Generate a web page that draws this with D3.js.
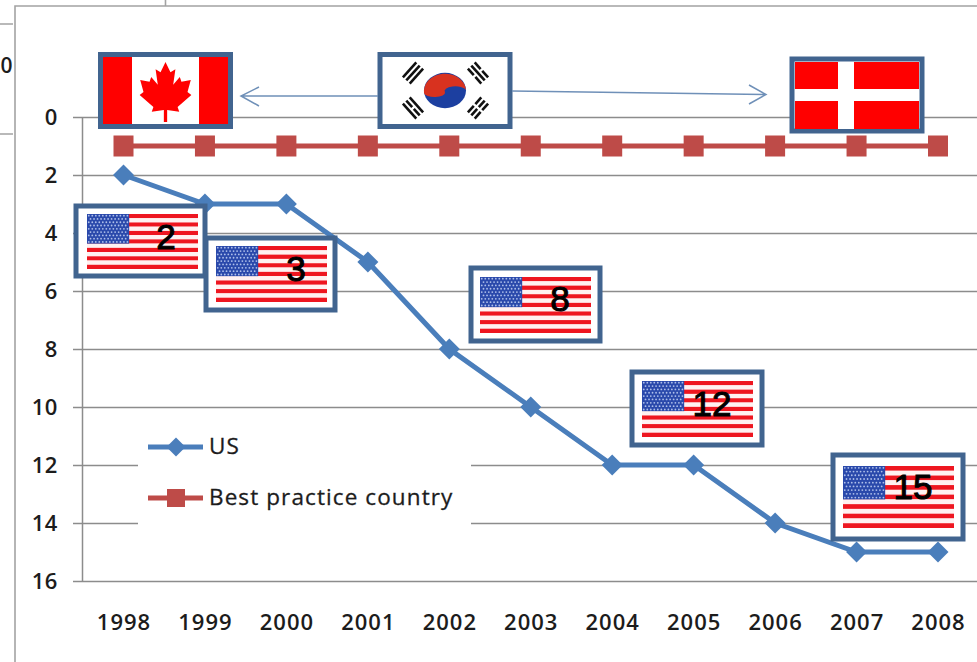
<!DOCTYPE html>
<html>
<head>
<meta charset="utf-8">
<script src="https://cdnjs.cloudflare.com/ajax/libs/d3/7.8.5/d3.min.js"></script>
<style>
  html, body { margin: 0; padding: 0; background: #fff; overflow: hidden; }
  svg { display: block; }
  text { font-family: "Open Sans", sans-serif; fill: #1c1c1c; }
</style>
</head>
<body>
<svg id="chart" width="977" height="662"></svg>
<script>
// Rank of each country by year (1 = best)
const years = [1998, 1999, 2000, 2001, 2002, 2003, 2004, 2005, 2006, 2007, 2008];
const usRank = [2, 3, 3, 5, 8, 10, 12, 12, 14, 15, 15];
const bestPracticeRank = [1, 1, 1, 1, 1, 1, 1, 1, 1, 1, 1];
const rankTicks = [0, 2, 4, 6, 8, 10, 12, 14, 16];
const seriesNames = ["US", "Best practice country"];
const calloutYears = [1998, 2000, 2002, 2005, 2007];

// Callout frames, one per entry of calloutYears
const calloutFrames = [
  { x: 76, y: 206, w: 129, h: 70, fx: 87, fy: 214, fw: 111, fh: 55, tx: 166, ty: 236 },
  { x: 206, y: 238, w: 129, h: 72, fx: 216, fy: 246, fw: 111, fh: 56, tx: 296, ty: 268 },
  { x: 471, y: 268, w: 129, h: 73, fx: 480, fy: 277, fw: 111, fh: 56, tx: 560, ty: 298 },
  { x: 632, y: 372, w: 130, h: 73, fx: 642, fy: 381, fw: 111, fh: 56, tx: 712, ty: 403 },
  { x: 833, y: 455, w: 130, h: 84, fx: 843, fy: 466, fw: 111, fh: 62, tx: 913, ty: 486 }
];

const BORDER = "#41648f", RED = "#ff0000", FLAG_RED = "#ee1620";
const svg = d3.select("#chart");

const x = d3.scalePoint().domain(years).range([123.5, 938]);
const y = d3.scaleLinear().domain([0, 16]).range([117, 581]);

// Outer frame and the cropped neighbour at the top-left
const frame = svg.append("g").attr("stroke", "#a3a3a3").attr("stroke-width", 1.6).attr("fill", "none");
frame.append("path").attr("d", "M977,6H15V662");
frame.append("path").attr("d", "M0,24H13M0,134H13M165.5,0V6");
svg.append("text").attr("x", 6.5).attr("y", 66).attr("dy", "0.35em")
  .attr("text-anchor", "middle").attr("font-size", 21).attr("font-weight", 600).text("0");

// Rank axis with its ticks carried across as gridlines
const yAxis = d3.axisLeft(y).tickValues(rankTicks).tickSize(0).tickPadding(24);
const yg = svg.append("g").attr("transform", "translate(82,0)").call(yAxis);
yg.select(".domain").attr("stroke", "#8c8c8c").attr("stroke-width", 1.5);
yg.selectAll(".tick line")
  .attr("x1", -9).attr("x2", 977 - 82)
  .attr("stroke", "#8c8c8c").attr("stroke-width", 1.5);
yg.selectAll(".tick text")
  .attr("font-size", 22).attr("font-family", '"Open Sans", sans-serif')
  .attr("fill", "#1c1c1c").attr("font-weight", 600).attr("letter-spacing", 0.6);

// Year labels sit below the baseline without tick marks
const xAxis = d3.axisBottom(x).tickSize(0).tickPadding(33).tickFormat(d3.format("d"));
const xg = svg.append("g").attr("transform", `translate(0,${y(16)})`).call(xAxis);
xg.select(".domain").remove();
xg.selectAll(".tick text")
  .attr("font-size", 22).attr("font-family", '"Open Sans", sans-serif')
  .attr("fill", "#1c1c1c").attr("font-weight", 600).attr("letter-spacing", 1);

// Series lines and markers
const line = d3.line().x((d, i) => x(years[i])).y(d => y(d));
const US_BLUE = "#4a7ebb", BEST_RED = "#be4b48";
const diamond = s => `M0,${-s}L${s},0L0,${s}L${-s},0Z`;

svg.append("path").datum(bestPracticeRank).attr("d", line)
  .attr("fill", "none").attr("stroke", BEST_RED).attr("stroke-width", 5);
svg.selectAll("rect.best").data(bestPracticeRank).join("rect").attr("class", "best")
  .attr("x", (d, i) => x(years[i]) - 10).attr("y", d => y(d) - 10.5)
  .attr("width", 20).attr("height", 21).attr("fill", BEST_RED);

svg.append("path").datum(usRank).attr("d", line)
  .attr("fill", "none").attr("stroke", US_BLUE).attr("stroke-width", 5);
svg.selectAll("path.us").data(usRank).join("path").attr("class", "us")
  .attr("transform", (d, i) => `translate(${x(years[i])},${y(d)})`)
  .attr("d", diamond(10.5)).attr("fill", US_BLUE);

// Legend panel hides the gridlines behind it
const legend = svg.append("g");
legend.append("rect").attr("x", 138).attr("y", 424).attr("width", 333).attr("height", 102).attr("fill", "#fff");
[447, 498].forEach((ly, i) => {
  const col = i === 0 ? US_BLUE : BEST_RED;
  legend.append("line").attr("x1", 148).attr("x2", 203).attr("y1", ly).attr("y2", ly)
    .attr("stroke", col).attr("stroke-width", 5);
  if (i === 0) {
    legend.append("path").attr("transform", `translate(176,${ly})`).attr("d", diamond(9.5)).attr("fill", col);
  } else {
    legend.append("rect").attr("x", 167).attr("y", ly - 9).attr("width", 18).attr("height", 18).attr("fill", col);
  }
  legend.append("text").attr("x", 209).attr("y", ly - 1).attr("dy", "0.35em")
    .attr("font-size", 22.5).attr("letter-spacing", 1.1).attr("stroke", "#1c1c1c").attr("stroke-width", 0.3)
    .text(seriesNames[i]);
});

function box(g, bx, by, bw, bh) {
  g.append("rect").attr("x", bx).attr("y", by).attr("width", bw).attr("height", bh)
    .attr("fill", "#fff").attr("stroke", BORDER).attr("stroke-width", 5);
}

// US flag: thirteen stripes, canton with a grid of stars
function usFlag(g, f) {
  const sh = f.fh / 13;
  d3.range(13).forEach(i => {
    g.append("rect").attr("x", f.fx).attr("y", f.fy + i * sh)
      .attr("width", f.fw).attr("height", sh)
      .attr("fill", i % 2 ? "#fff1f1" : FLAG_RED);
  });
  const cw = f.fw * 0.38, ch = sh * 7;
  g.append("rect").attr("x", f.fx).attr("y", f.fy).attr("width", cw).attr("height", ch).attr("fill", "#2a49ab");
  d3.range(9).forEach(r => {
    const n = r % 2 ? 11 : 12;
    d3.range(n).forEach(c => {
      g.append("circle")
        .attr("cx", f.fx + (c + (r % 2 ? 1 : 0.5)) * cw / 12)
        .attr("cy", f.fy + (r + 0.5) * ch / 9)
        .attr("r", 0.9).attr("fill", "#aebfea");
    });
  });
}

calloutFrames.forEach((f, i) => {
  const g = svg.append("g");
  box(g, f.x, f.y, f.w, f.h);
  usFlag(g, f);
  g.append("text").attr("x", f.tx).attr("y", f.ty).attr("dy", "0.36em")
    .attr("text-anchor", "middle").attr("font-size", 35)
    .style("font-family", '"Liberation Sans", sans-serif')
    .style("fill", "#000").attr("stroke", "#000").attr("stroke-width", 1)
    .text(usRank[years.indexOf(calloutYears[i])]);
});

// Canada
const ca = svg.append("g");
box(ca, 100.5, 54.5, 130, 72);
ca.append("rect").attr("x", 103).attr("y", 57).attr("width", 125).attr("height", 67).attr("fill", RED);
ca.append("rect").attr("x", 132).attr("y", 57).attr("width", 67).attr("height", 67).attr("fill", "#fff");
const halfLeaf = [[0,-50],[9,-33],[18,-38],[14,-12],[26,-25],[29,-17],[46,-20],[40,0],[47,5],[22,25],[25,33],[3,30],[3,50]];
const leaf = halfLeaf.concat(halfLeaf.slice(1).reverse().map(p => [-p[0], p[1]]));
ca.append("path")
  .attr("transform", "translate(165.5,92) scale(0.55,0.6)")
  .attr("d", "M" + leaf.join("L") + "Z").attr("fill", RED);

// Korea
const kr = svg.append("g");
box(kr, 380, 54.5, 130, 72);
const tg = kr.append("g").attr("transform", "translate(445,90.5) scale(1,0.84)");
const R = 21;
tg.append("circle").attr("r", R).attr("fill", "#1c3fa0");
tg.append("path")
  .attr("d", `M${-R},3A${R},${R} 0 0 1 ${R},-1A${R/2},${R/4} 0 0 0 0,2A${R/2},${R/4} 0 0 1 ${-R},3Z`)
  .attr("fill", "#d8321f");
const trigrams = [
  { cx: 413, cy: 73, rot: -48, bars: [1, 1, 1] },
  { cx: 478, cy: 73, rot: 48, bars: [0, 1, 0] },
  { cx: 413, cy: 108, rot: 48, bars: [1, 0, 1] },
  { cx: 478, cy: 108, rot: -48, bars: [0, 0, 0] }
];
trigrams.forEach(t => {
  const g = kr.append("g").attr("transform", `translate(${t.cx},${t.cy}) rotate(${t.rot})`)
    .attr("stroke", "#111").attr("stroke-width", 2.6);
  t.bars.forEach((solid, i) => {
    const by = (i - 1) * 4.6;
    if (solid) g.append("line").attr("x1", -10).attr("x2", 10).attr("y1", by).attr("y2", by);
    else {
      g.append("line").attr("x1", -10).attr("x2", -1.2).attr("y1", by).attr("y2", by);
      g.append("line").attr("x1", 1.2).attr("x2", 10).attr("y1", by).attr("y2", by);
    }
  });
});

// Denmark
const dk = svg.append("g");
box(dk, 792, 59, 130, 72);
dk.append("rect").attr("x", 795).attr("y", 62).attr("width", 124).attr("height", 67).attr("fill", RED);
dk.append("rect").attr("x", 838).attr("y", 62).attr("width", 16).attr("height", 67).attr("fill", "#fff");
dk.append("rect").attr("x", 795).attr("y", 89).attr("width", 124).attr("height", 12).attr("fill", "#fff");

// Arrows from Korea toward the other two leaders
const arrows = svg.append("g").attr("fill", "none").attr("stroke", "#6f90b8").attr("stroke-width", 1.5);
arrows.append("path").attr("d", "M378,96H241M259,87L241,96L259,106");
arrows.append("path").attr("d", "M512,91L766,94.5M749,85L766,94.5L749,104");
</script>
</body>
</html>
